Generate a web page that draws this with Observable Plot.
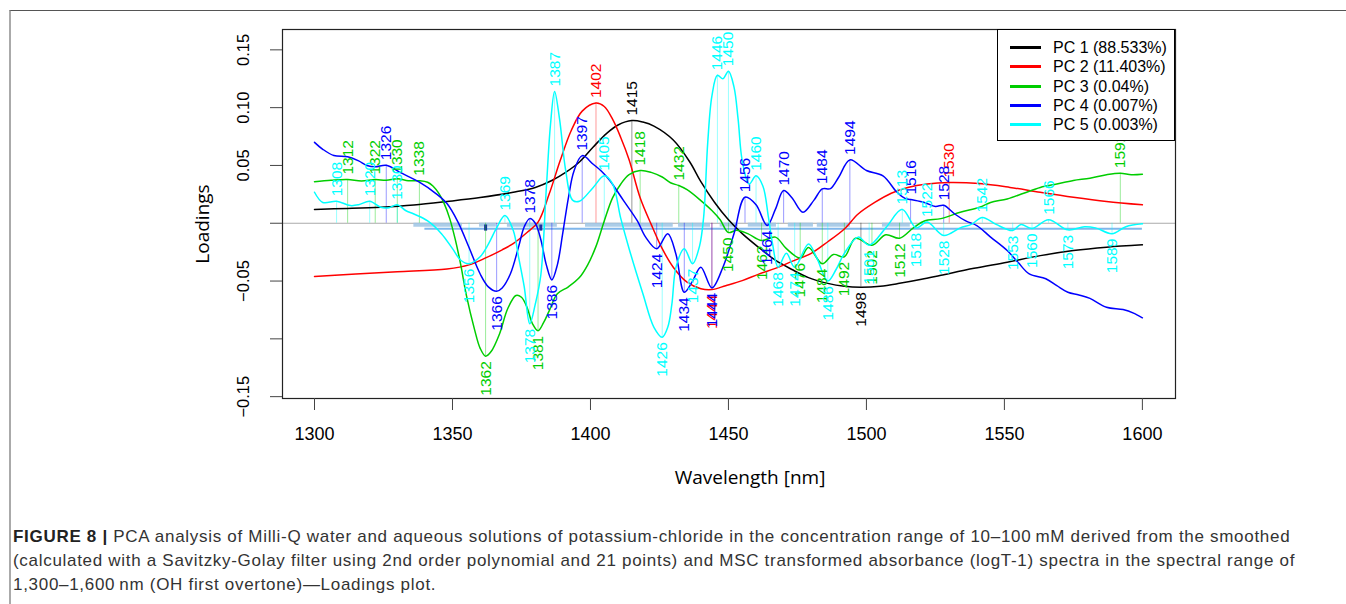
<!DOCTYPE html>
<html><head><meta charset="utf-8">
<script src="https://cdn.jsdelivr.net/npm/d3@7"></script>
<script src="https://cdn.jsdelivr.net/npm/@observablehq/plot@0.6"></script>
<style>
body{margin:0;background:#fff;}
#fig{position:relative;width:1346px;height:604px;overflow:hidden;font-family:"Liberation Sans",Arial,sans-serif;}
#frame{position:absolute;left:9px;top:10px;width:1400px;height:700px;border-top:1px solid #555;border-left:2px solid #aaa;}
#chart{position:absolute;left:0;top:0;}
#legend{position:absolute;left:997px;top:29px;width:176px;height:110px;border:1px solid #000;background:#fff;}
.lrow{position:absolute;left:0;height:19px;width:176px;}
.lline{position:absolute;left:12px;top:8px;width:31px;height:3px;}
.ltext{position:absolute;left:55px;top:0;font-size:16px;line-height:19px;color:#000;white-space:nowrap;}
#caption{position:absolute;left:13px;top:525px;font-size:17px;letter-spacing:0.7px;line-height:24px;color:#333;white-space:nowrap;}
</style></head>
<body><div id="fig"><div id="frame"></div><div id="chart"></div><div id="legend"></div><div id="caption"></div></div>
<script>
// ---- data (wavelength nm, loading) ----
const pc1 = [[1300,0.012],[1312,0.0128],[1324,0.0139],[1336,0.0158],[1348,0.0188],[1360,0.0222],[1372,0.0268],[1380,0.031],[1386,0.037],[1391,0.044],[1396,0.053],[1401,0.066],[1406,0.078],[1410,0.085],[1415,0.0888],[1419,0.0875],[1423,0.084],[1430,0.072],[1436,0.053],[1440,0.036],[1445,0.018],[1450,0.003],[1455,-0.009],[1461,-0.021],[1467,-0.032],[1473,-0.040],[1479,-0.047],[1486,-0.052],[1492,-0.0545],[1498,-0.0553],[1505,-0.0545],[1512,-0.052],[1520,-0.0485],[1527,-0.045],[1539,-0.039],[1551,-0.0337],[1563,-0.028],[1575,-0.0236],[1587,-0.0207],[1600,-0.0187]];
const pc2 = [[1300,-0.046],[1315,-0.044],[1330,-0.042],[1348,-0.0395],[1356,-0.036],[1362,-0.030],[1368,-0.023],[1372,-0.0176],[1377,-0.008],[1381,0.001],[1385,0.025],[1389,0.054],[1393,0.08],[1397,0.097],[1402,0.104],[1405,0.101],[1408,0.09],[1411,0.074],[1414,0.055],[1418,0.022],[1422,-0.001],[1426,-0.022],[1430,-0.038],[1435,-0.051],[1440,-0.0566],[1444,-0.0574],[1449,-0.054],[1455,-0.0496],[1461,-0.044],[1467,-0.039],[1473,-0.033],[1480,-0.026],[1486,-0.016],[1492,-0.005],[1497,0.008],[1503,0.018],[1509,0.026],[1515,0.031],[1522,0.034],[1530,0.0352],[1541,0.0343],[1552,0.031],[1563,0.0268],[1575,0.0225],[1587,0.0188],[1600,0.0159]];
const pc3 = [[1300,0.036],[1306,0.0372],[1312,0.0378],[1317,0.0365],[1322,0.0378],[1326,0.0372],[1330,0.0385],[1334,0.0368],[1338,0.0368],[1341,0.0355],[1343,0.032],[1345,0.026],[1347,0.017],[1349,0.004],[1351,-0.014],[1353,-0.036],[1355,-0.062],[1358,-0.092],[1360,-0.108],[1362,-0.115],[1364,-0.111],[1367,-0.096],[1370,-0.074],[1373,-0.0625],[1375,-0.064],[1377,-0.0727],[1379,-0.087],[1381,-0.093],[1383,-0.086],[1385,-0.076],[1388,-0.061],[1392,-0.055],[1396,-0.047],[1399,-0.036],[1402,-0.02],[1405,0.002],[1408,0.022],[1411,0.034],[1414,0.042],[1418,0.0456],[1422,0.044],[1426,0.040],[1429,0.035],[1432,0.0326],[1435,0.029],[1440,0.0196],[1444,0.011],[1447,0.003],[1450,-0.008],[1453,-0.006],[1457,-0.009],[1462,-0.015],[1467,-0.012],[1471,-0.022],[1476,-0.03],[1479,-0.021],[1484,-0.035],[1488,-0.027],[1492,-0.029],[1496,-0.013],[1502,-0.019],[1507,-0.01],[1512,-0.013],[1517,-0.004],[1521,0.002],[1527,0.004],[1534,0.0095],[1541,0.0138],[1545,0.018],[1551,0.021],[1557,0.026],[1563,0.031],[1569,0.034],[1575,0.037],[1581,0.039],[1587,0.042],[1592,0.0433],[1596,0.042],[1600,0.0424]];
const pc4 = [[1300,0.070],[1303,0.064],[1307,0.0586],[1312,0.0575],[1316,0.054],[1319,0.050],[1322,0.0488],[1326,0.0502],[1331,0.044],[1338,0.0355],[1344,0.0257],[1348,0.017],[1352,0.001],[1356,-0.021],[1360,-0.0437],[1363,-0.055],[1366,-0.0588],[1368,-0.056],[1371,-0.0437],[1374,-0.02],[1376,-0.003],[1378,0.004],[1380,0.0],[1382,-0.014],[1384,-0.036],[1386,-0.049],[1388,-0.036],[1390,-0.008],[1392,0.022],[1394,0.045],[1397,0.0585],[1401,0.051],[1404,0.045],[1407,0.037],[1412,0.0196],[1417,0.002],[1420,-0.012],[1424,-0.022],[1428,-0.009],[1431,-0.027],[1434,-0.0597],[1437,-0.05],[1440,-0.038],[1444,-0.0559],[1448,-0.038],[1452,-0.009],[1456,0.0225],[1460,0.016],[1464,-0.002],[1467,0.012],[1470,0.0283],[1473,0.022],[1477,0.0095],[1481,0.02],[1484,0.0297],[1487,0.03],[1490,0.04],[1494,0.0548],[1500,0.0456],[1506,0.041],[1511,0.027],[1514,0.0215],[1516,0.0205],[1521,0.018],[1525,0.0145],[1528,0.0155],[1532,0.008],[1536,0.002],[1540,-0.002],[1545,-0.012],[1551,-0.0236],[1555,-0.034],[1559,-0.0438],[1565,-0.048],[1569,-0.054],[1573,-0.0597],[1577,-0.062],[1581,-0.065],[1587,-0.0727],[1593,-0.0747],[1597,-0.078],[1600,-0.0818]];
const pc5 = [[1300,0.0268],[1303,0.018],[1308,0.019],[1313,0.0153],[1316,0.016],[1320,0.019],[1324,0.0138],[1327,0.0135],[1330,0.016],[1333,0.011],[1336,0.008],[1341,0.002],[1346,-0.009],[1350,-0.022],[1353,-0.032],[1356,-0.035],[1360,-0.029],[1363,-0.018],[1366,-0.004],[1369,0.0067],[1372,-0.006],[1374,-0.03],[1376,-0.055],[1378,-0.087],[1380,-0.07],[1382,-0.045],[1384,0.03],[1385.5,0.085],[1387,0.114],[1388.8,0.09],[1391,0.046],[1393.5,0.02],[1396,0.019],[1401,0.031],[1405,0.041],[1408,0.034],[1411,0.004],[1414,-0.022],[1419,-0.061],[1423,-0.09],[1426,-0.0986],[1428,-0.09],[1429.5,-0.07],[1431,-0.038],[1434,-0.022],[1437,-0.035],[1439.5,-0.02],[1441,0.005],[1442.5,0.07],[1444,0.11],[1446,0.128],[1448,0.125],[1450,0.1315],[1452,0.118],[1453.5,0.09],[1455,0.054],[1457.5,0.034],[1460,0.041],[1462.5,0.032],[1464.5,0.005],[1466,-0.018],[1468,-0.038],[1471,-0.026],[1474,-0.038],[1479,-0.018],[1482,-0.03],[1486,-0.05],[1489,-0.04],[1492,-0.026],[1497,-0.012],[1501,-0.019],[1507,-0.004],[1513,0.012],[1518,-0.004],[1522,0.001],[1528,-0.0106],[1534,-0.004],[1538,-0.001],[1542,0.005],[1547,-0.001],[1553,-0.0063],[1556,-0.001],[1560,-0.0045],[1566,0.003],[1573,-0.0057],[1579,-0.003],[1583,-0.004],[1589,-0.009],[1594,-0.003],[1600,-0.0005]];

// labelled extrema: [wavelength, "max" | "min"]
const pc1Peaks = [[1415,"max"],[1498,"min"]];
const pc2Peaks = [[1402,"max"],[1444,"min"],[1530,"max"]];
const pc3Peaks = [[1312,"max"],[1322,"max"],[1330,"max"],[1338,"max"],[1362,"min"],[1381,"min"],[1418,"max"],[1432,"max"],[1450,"min"],[1462,"min"],[1476,"min"],[1484,"min"],[1492,"min"],[1502,"min"],[1512,"min"],[1592,"max"]];
const pc4Peaks = [[1326,"max"],[1366,"min"],[1378,"max"],[1386,"min"],[1397,"max"],[1424,"min"],[1434,"min"],[1444,"min"],[1456,"max"],[1464,"min"],[1470,"max"],[1484,"max"],[1494,"max"],[1516,"max"],[1528,"max"]];
const pc5Peaks = [[1308,"max"],[1320,"max"],[1330,"max"],[1356,"min"],[1369,"max"],[1378,"min"],[1387,"max"],[1405,"max"],[1426,"min"],[1437,"min"],[1446,"max"],[1450,"max"],[1460,"max"],[1468,"min"],[1474,"min"],[1486,"min"],[1501,"min"],[1513,"max"],[1518,"min"],[1522,"max"],[1528,"min"],[1542,"max"],[1553,"min"],[1560,"min"],[1566,"max"],[1573,"min"],[1589,"min"]];

const pcNames = ["PC 1 (88.533%)","PC 2 (11.403%)","PC 3 (0.04%)","PC 4 (0.007%)","PC 5 (0.003%)"];
const pcColors = ["#000000","#ff0000","#00cd00","#0000ff","#00ffff"];
const xTicks = [1300,1350,1400,1450,1500,1550,1600];
const yTicks = [-0.15,-0.10,-0.05,0,0.05,0.10,0.15];
const yTickLabels = [[-0.15,"\u22120.15"],[-0.05,"\u22120.05"],[0.05,"0.05"],[0.10,"0.10"],[0.15,"0.15"]];
// faint marks along the zero line in the original
const zeroBands = [[1336,1353.6],[1359.8,1365.9],[1369.9,1388],[1398.2,1430],[1431.9,1443.5],[1447,1453.6],[1457.2,1467.4],[1471.7,1480.8],[1482.2,1494.2],[1505.8,1515.9]];
const offsetLine = [1340,1600,-0.0048];
const darkTicks = [1362,1382];

// ---- build ----
const series = [pc1,pc2,pc3,pc4,pc5];
const peakSets = [pc1Peaks,pc2Peaks,pc3Peaks,pc4Peaks,pc5Peaks];
const lineData = series.flatMap((s,i)=>s.map(([w,v])=>({pc:i,w,v})));
const peakData = peakSets.flatMap((p,i)=>{const m=new Map(series[i]);return p.map(([w,k])=>({pc:i,w,k,v:m.get(w)}));});
const col = d=>pcColors[d.pc];

const chart = Plot.plot({
  width:1346, height:500,
  marginLeft:282, marginRight:171, marginTop:29, marginBottom:102,
  x:{domain:[1288.4,1612]},
  y:{domain:[-0.1516,0.1676]},
  color:{type:"identity"},
  style:{fontFamily:"'Liberation Sans', Arial, sans-serif", background:"transparent", color:"#000"},
  marks:[
    Plot.ruleY([0],{stroke:"#aaaaaa",strokeWidth:1.2}),
    Plot.ruleY(zeroBands,{y:-0.0012,x1:d=>d[0],x2:d=>d[1],stroke:"#9ec4e4",strokeWidth:4,strokeOpacity:0.85}),
    Plot.ruleY([offsetLine],{y:d=>d[2],x1:d=>d[0],x2:d=>d[1],stroke:"#80b6ea",strokeWidth:2}),
    Plot.ruleX(darkTicks,{x:d=>d,y1:-0.0015,y2:-0.0068,stroke:"#1a2fa0",strokeWidth:3}),
    Plot.ruleX(peakData,{x:"w",y1:0,y2:"v",stroke:col,strokeOpacity:0.4,strokeWidth:1}),
    Plot.line(lineData,{x:"w",y:"v",z:"pc",stroke:col,strokeWidth:1.5,curve:"catmull-rom"}),
    Plot.text(peakData.filter(d=>d.k==="max"),{x:"w",y:"v",text:d=>String(d.w),fill:col,rotate:-90,textAnchor:"start",lineAnchor:"middle",dy:-5,fontSize:15.5}),
    Plot.text(peakData.filter(d=>d.k==="min"),{x:"w",y:"v",text:d=>String(d.w),fill:col,rotate:-90,textAnchor:"end",lineAnchor:"middle",dy:5,fontSize:15.5}),
    Plot.frame({stroke:"#222",strokeWidth:1.2}),
    Plot.axisX({ticks:xTicks,tickSize:12,tickPadding:17,fontSize:18,tickFormat:d=>String(d),label:null,stroke:"#444"}),
    Plot.axisY({ticks:yTicks,tickSize:12,tickFormat:()=>"",label:null,stroke:"#444"}),
    Plot.text(yTickLabels,{y:d=>d[0],text:d=>d[1],frameAnchor:"left",dx:-39,rotate:-90,textAnchor:"middle",lineAnchor:"middle",fontSize:16.5}),
    Plot.text(["Loadings"],{frameAnchor:"left",dx:-80,dy:10,rotate:-90,textAnchor:"middle",lineAnchor:"middle",fontSize:19,fontFamily:"'Open Sans', sans-serif"}),
    Plot.text(["Wavelength [nm]"],{frameAnchor:"bottom",dx:21,dy:79,textAnchor:"middle",lineAnchor:"middle",fontSize:19,fontFamily:"'Open Sans', sans-serif"})
  ]
});
document.getElementById("chart").appendChild(chart);

// legend
const lg = document.getElementById("legend");
pcNames.forEach((n,i)=>{
  const r=document.createElement("div");r.className="lrow";r.style.top=(8+i*19.3)+"px";
  const l=document.createElement("div");l.className="lline";l.style.background=pcColors[i];
  const t=document.createElement("div");t.className="ltext";t.textContent=n;
  r.appendChild(l);r.appendChild(t);lg.appendChild(r);
});

// caption
const captionLines = [
  ["FIGURE 8 |"," PCA analysis of Milli-Q water and aqueous solutions of potassium-chloride in the concentration range of 10\u2013100\u2009mM derived from the smoothed"],
  ["","(calculated with a Savitzky-Golay filter using 2nd order polynomial and 21 points) and MSC transformed absorbance (logT-1) spectra in the spectral range of"],
  ["","1,300\u20131,600\u2009nm (OH first overtone)\u2014Loadings plot."]
];
const cap=document.getElementById("caption");
captionLines.forEach(([b,t])=>{
  const d=document.createElement("div");
  if(b){const s=document.createElement("b");s.textContent=b;s.style.color="#222";d.appendChild(s);}
  d.appendChild(document.createTextNode(t));cap.appendChild(d);
});
</script></body></html>
